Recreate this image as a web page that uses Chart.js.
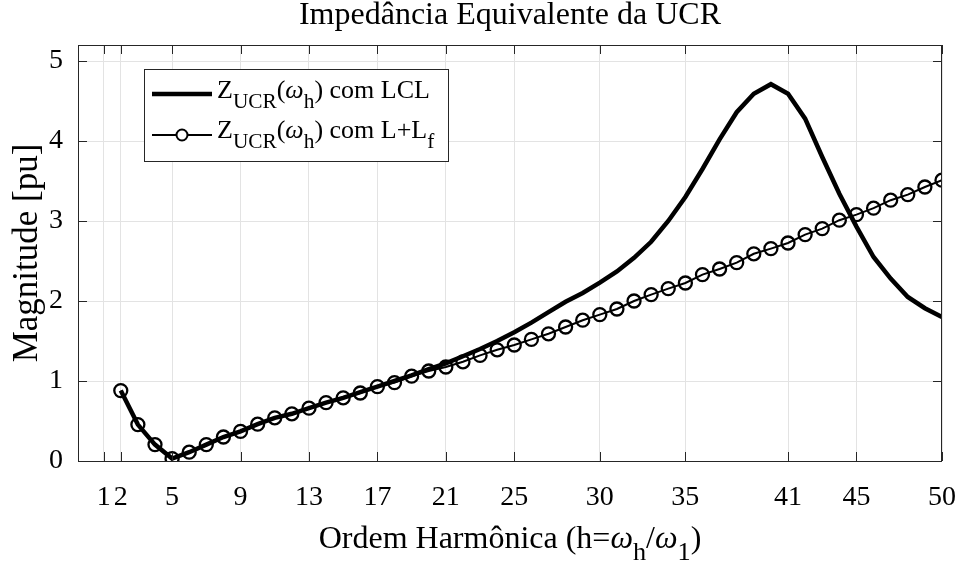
<!DOCTYPE html>
<html>
<head>
<meta charset="utf-8">
<script src="https://cdn.jsdelivr.net/npm/chart.js@4.4.1/dist/chart.umd.min.js"></script>
<style>
  html, body { margin: 0; background: #fff; }
</style>
</head>
<body>
<canvas id="chart" width="976" height="562"></canvas>
<script>
// harmonic order h
const harmonics = [2, 3, 4, 5, 6, 7, 8, 9, 10, 11, 12, 13, 14, 15, 16, 17, 18, 19, 20, 21, 22, 23, 24, 25, 26,
  27, 28, 29, 30, 31, 32, 33, 34, 35, 36, 37, 38, 39, 40, 41, 42, 43, 44, 45, 46, 47, 48, 49, 50];
// |Z_UCR| com LCL [pu]
const zLCL = [0.88, 0.455, 0.205, 0.03, 0.11, 0.205, 0.30, 0.37, 0.46, 0.54, 0.59, 0.66, 0.73, 0.79, 0.86,
  0.93, 1.0, 1.07, 1.15, 1.22, 1.31, 1.40, 1.50, 1.61, 1.73, 1.86, 1.99, 2.10, 2.23, 2.37, 2.54, 2.74, 3.0,
  3.3, 3.65, 4.02, 4.36, 4.59, 4.71, 4.59, 4.28, 3.80, 3.34, 2.93, 2.55, 2.28, 2.05, 1.91, 1.80];
// |Z_UCR| com L+Lf [pu]
const zLLf = [0.88, 0.455, 0.205, 0.03, 0.11, 0.205, 0.30, 0.37, 0.46, 0.54, 0.59, 0.66, 0.73, 0.79, 0.85,
  0.93, 0.98, 1.06, 1.125, 1.175, 1.24, 1.32, 1.39, 1.45, 1.52, 1.59, 1.675, 1.76, 1.83, 1.90, 2.0, 2.08,
  2.155, 2.225, 2.33, 2.40, 2.48, 2.59, 2.655, 2.725, 2.83, 2.905, 3.01, 3.08, 3.16, 3.26, 3.33, 3.425, 3.51];
const xTicks = [1, 2, 5, 9, 13, 17, 21, 25, 30, 35, 41, 45, 50];
const yTicks = [0, 1, 2, 3, 4, 5];

const SERIF = '"Liberation Serif", "Times New Roman", serif';
const AXIS = '#262626';

// text with subscripts / italic parts
function rich(ctx, parts, x, y, size, center) {
  const segs = parts.map(p => {
    const s = p.sub ? size * 0.82 : size;
    const font = (p.it ? 'italic ' : '') + s + 'px ' + SERIF;
    ctx.font = font;
    return { t: p.t, font, w: ctx.measureText(p.t).width, dy: p.sub ? size * 0.38 : 0 };
  });
  const total = segs.reduce((a, s) => a + s.w, 0);
  let cx = center ? x - total / 2 : x;
  segs.forEach(s => {
    ctx.font = s.font;
    ctx.fillText(s.t, cx, y + s.dy);
    cx += s.w;
  });
}

const frame = {
  id: 'frame',
  afterDraw(chart) {
    const { ctx, chartArea: a, scales: { x, y } } = chart;
    ctx.save();
    ctx.strokeStyle = AXIS;
    ctx.lineWidth = 1;
    ctx.strokeRect(a.left + 0.5, a.top + 0.5, a.right - a.left - 1, a.bottom - a.top);
    ctx.beginPath();
    xTicks.forEach(v => {
      const px = Math.round(x.getPixelForValue(v)) + 0.5;
      ctx.moveTo(px, a.bottom); ctx.lineTo(px, a.bottom - 9);
      ctx.moveTo(px, a.top); ctx.lineTo(px, a.top + 9);
    });
    yTicks.forEach(v => {
      const py = Math.round(y.getPixelForValue(v)) + 0.5;
      ctx.moveTo(a.left, py); ctx.lineTo(a.left + 9, py);
      ctx.moveTo(a.right, py); ctx.lineTo(a.right - 9, py);
    });
    ctx.stroke();

    // x axis label
    ctx.fillStyle = '#000';
    ctx.textBaseline = 'alphabetic';
    rich(ctx, [
      { t: 'Ordem Harmônica (h=' }, { t: 'ω', it: true }, { t: 'h', sub: true },
      { t: '/' }, { t: 'ω', it: true }, { t: '1', sub: true }, { t: ')' }
    ], (a.left + a.right) / 2, 548, 32, true);

    // legend
    const lx = 144, ly = 69, lw = 304, lh = 92;
    ctx.fillStyle = '#fff';
    ctx.fillRect(lx, ly, lw, lh);
    ctx.strokeStyle = AXIS;
    ctx.lineWidth = 1;
    ctx.strokeRect(lx + 0.5, ly + 0.5, lw, lh);
    ctx.strokeStyle = '#000';
    ctx.lineWidth = 4.5;
    ctx.beginPath(); ctx.moveTo(152, 94); ctx.lineTo(212, 94); ctx.stroke();
    ctx.lineWidth = 2;
    ctx.beginPath(); ctx.moveTo(152, 135); ctx.lineTo(212, 135); ctx.stroke();
    ctx.fillStyle = '#fff';
    ctx.beginPath(); ctx.arc(182, 135, 5.5, 0, Math.PI * 2); ctx.fill(); ctx.stroke();
    ctx.fillStyle = '#000';
    rich(ctx, [
      { t: 'Z' }, { t: 'UCR', sub: true }, { t: '(' }, { t: 'ω', it: true }, { t: 'h', sub: true },
      { t: ') com LCL' }
    ], 217, 98, 26, false);
    rich(ctx, [
      { t: 'Z' }, { t: 'UCR', sub: true }, { t: '(' }, { t: 'ω', it: true }, { t: 'h', sub: true },
      { t: ') com L+L' }, { t: 'f', sub: true }
    ], 217, 138, 26, false);
    ctx.restore();
  }
};

new Chart(document.getElementById('chart'), {
  type: 'line',
  data: {
    labels: harmonics,
    datasets: [
      {
        label: 'Z_UCR(ω_h) com LCL',
        data: harmonics.map((h, i) => ({ x: h, y: zLCL[i] })),
        borderColor: '#000',
        borderWidth: 4.5,
        pointRadius: 0,
        tension: 0,
        order: 1
      },
      {
        label: 'Z_UCR(ω_h) com L+Lf',
        data: harmonics.map((h, i) => ({ x: h, y: zLLf[i] })),
        borderColor: '#000',
        borderWidth: 2,
        pointRadius: 6.5,
        pointBorderWidth: 2.3,
        pointBackgroundColor: 'rgba(0,0,0,0)',
        pointBorderColor: '#000',
        tension: 0,
        order: 0
      }
    ]
  },
  options: {
    responsive: false,
    animation: false,
    layout: { padding: { left: 0, right: 19, top: 0, bottom: 0 } },
    plugins: {
      legend: { display: false },
      tooltip: { enabled: false },
      title: {
        display: true,
        fullSize: false,
        text: 'Impedância Equivalente da UCR',
        color: '#000',
        font: { family: SERIF, size: 32, weight: 'normal', lineHeight: 1 },
        padding: { top: 0, bottom: 13 }
      }
    },
    scales: {
      x: {
        type: 'linear',
        min: -0.5,
        max: 50,
        afterBuildTicks: s => { s.ticks = xTicks.map(v => ({ value: v })); },
        afterFit: s => { s.height = 101; },
        grid: { color: '#e3e3e3', drawTicks: false },
        border: { display: false },
        ticks: {
          autoSkip: false, maxRotation: 0, minRotation: 0, padding: 20,
          color: '#000', font: { family: SERIF, size: 28 },
          callback: v => String(v)
        }
      },
      y: {
        min: 0,
        max: 5.2,
        afterBuildTicks: s => { s.ticks = yTicks.map(v => ({ value: v })); },
        afterFit: s => { s.width = 78; },
        grid: { color: '#e3e3e3', drawTicks: false },
        border: { display: false },
        title: {
          display: true,
          text: 'Magnitude [pu]',
          color: '#000',
          font: { family: SERIF, size: 35, lineHeight: 1 },
          padding: { top: 10, bottom: 0 }
        },
        ticks: {
          padding: 15,
          color: '#000', font: { family: SERIF, size: 28 },
          callback: v => String(v)
        }
      }
    }
  },
  plugins: [frame]
});
</script>
</body>
</html>
